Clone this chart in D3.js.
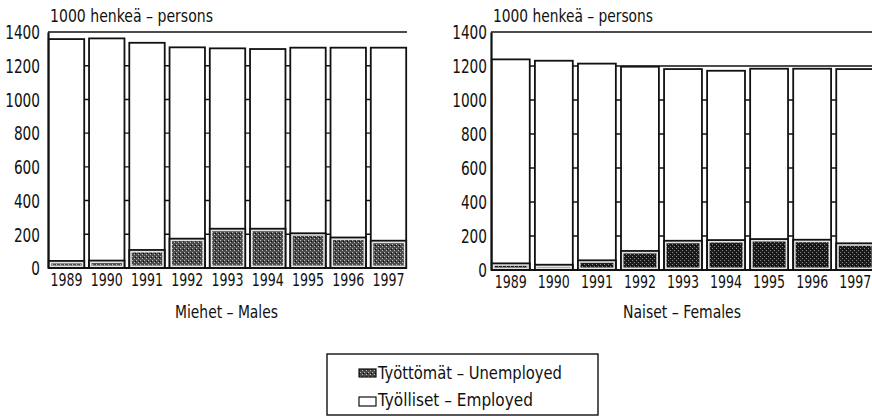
<!DOCTYPE html>
<html>
<head>
<meta charset="utf-8">
<script src="https://cdn.jsdelivr.net/npm/d3@7"></script>
<style>
  body{margin:0;background:#fff;}
  svg text{font-family:"Liberation Sans Narrow","DejaVu Sans Condensed","DejaVu Sans",sans-serif;font-stretch:condensed;fill:#111;}
</style>
</head>
<body>
<script>
// data (1000 persons)
var years = ["1989","1990","1991","1992","1993","1994","1995","1996","1997"];
var malesUnemployed = [42, 44, 107, 174, 233, 233, 206, 181, 162];
var malesEmployed   = [1316, 1318, 1229, 1135, 1070, 1066, 1101, 1126, 1145];
var femalesUnemployed = [39, 31, 57, 112, 172, 176, 182, 178, 157];
var femalesEmployed   = [1200, 1200, 1157, 1084, 1010, 996, 1002, 1006, 1025];
var yTicks = [0, 200, 400, 600, 800, 1000, 1200, 1400];
var unitLabel = "1000 henkeä – persons";
var panelNames = ["Miehet – Males", "Naiset – Females"];
var legendLabels = ["Työttömät – Unemployed", "Työlliset – Employed"];

var svgWidth = 872, svgHeight = 416;

var svg = d3.select("body").append("svg")
  .attr("width", svgWidth)
  .attr("height", svgHeight);

// stipple fills for the unemployed part
var defs = svg.append("defs");
function stipple(id, base, dot){
  var p = defs.append("pattern").attr("id", id)
    .attr("width", 4).attr("height", 4)
    .attr("patternUnits", "userSpaceOnUse");
  p.append("rect").attr("width", 4).attr("height", 4).attr("fill", base);
  p.append("rect").attr("x", 0).attr("y", 0).attr("width", 1).attr("height", 1).attr("fill", dot);
  p.append("rect").attr("x", 2).attr("y", 2).attr("width", 1).attr("height", 1).attr("fill", dot);
  p.append("rect").attr("x", 3).attr("y", 1).attr("width", 1).attr("height", 1).attr("fill", "#000");
}
stipple("stipM", "#4a4a4a", "#bdbdbd");
stipple("stipF", "#1c1c1c", "#8a8a8a");

var panels = [
  {name: panelNames[0], unemp: malesUnemployed, emp: malesEmployed,
   left: 48, right: 407, top: 32, bottom: 268, pad: 8, titleW: 163, nameW: 103, fill: "url(#stipM)"},
  {name: panelNames[1], unemp: femalesUnemployed, emp: femalesEmployed,
   left: 491, right: 875, top: 32, bottom: 270, pad: 4, titleW: 160, nameW: 118, fill: "url(#stipF)"}
];

panels.forEach(function(pn){
  var g = svg.append("g");

  var x = d3.scaleBand().domain(years)
    .range([pn.left, pn.right])
    .paddingInner(0.12).paddingOuter(0.02);
  var y = d3.scaleLinear().domain([0, 1400]).range([pn.bottom, pn.top]);

  // grid lines behind the bars
  g.selectAll(".grid").data(yTicks).enter().append("line")
    .attr("x1", pn.left).attr("x2", pn.right)
    .attr("y1", function(d){return y(d);})
    .attr("y2", function(d){return y(d);})
    .attr("stroke", "#111").attr("stroke-width", 1.4);

  // y axis, labels only
  var yAxis = d3.axisLeft(y).tickValues(yTicks).tickSize(0)
    .tickPadding(pn.pad).tickFormat(d3.format("d"));
  var ya = g.append("g").attr("transform", "translate(" + pn.left + ",0)").call(yAxis);
  ya.select(".domain").attr("stroke", "#111").attr("stroke-width", 2.2);
  ya.selectAll("text").attr("font-size", 19).attr("dy", "0.36em")
    .attr("textLength", function(d){return String(d).length * 8.7;})
    .attr("lengthAdjust", "spacingAndGlyphs");

  var rows = years.map(function(yr, i){
    return {year: yr, unemp: pn.unemp[i], total: pn.unemp[i] + pn.emp[i]};
  });

  var bars = g.selectAll(".bar").data(rows).enter().append("g");
  // whole bar = employed on top
  bars.append("rect")
    .attr("x", function(d){return x(d.year);})
    .attr("y", function(d){return y(d.total);})
    .attr("width", x.bandwidth())
    .attr("height", function(d){return y(0) - y(d.total);})
    .attr("fill", "#fff").attr("stroke", "#111").attr("stroke-width", 1.8);
  // unemployed: black edge, light rim, stipple inside
  bars.append("rect")
    .attr("x", function(d){return x(d.year);})
    .attr("y", function(d){return y(d.unemp);})
    .attr("width", x.bandwidth())
    .attr("height", function(d){return y(0) - y(d.unemp);})
    .attr("fill", "#e4e4e4").attr("stroke", "#111").attr("stroke-width", 1.8);
  bars.append("rect")
    .attr("x", function(d){return x(d.year) + 2.5;})
    .attr("y", function(d){return y(d.unemp) + 2.5;})
    .attr("width", x.bandwidth() - 5)
    .attr("height", function(d){return Math.max(0, y(0) - y(d.unemp) - 5);})
    .attr("fill", pn.fill);

  // year labels
  var xAxis = d3.axisBottom(x).tickSize(0).tickPadding(5);
  var xa = g.append("g").attr("transform", "translate(0," + pn.bottom + ")").call(xAxis);
  xa.select(".domain").remove();
  xa.selectAll("text").attr("font-size", 18.5)
    .attr("textLength", 32).attr("lengthAdjust", "spacingAndGlyphs");

  g.append("line")
    .attr("x1", pn.left).attr("x2", pn.right)
    .attr("y1", y(0)).attr("y2", y(0))
    .attr("stroke", "#111").attr("stroke-width", 1.8);

  g.append("text")
    .attr("x", pn.left + 2).attr("y", 22)
    .attr("font-size", 17.5)
    .attr("textLength", pn.titleW).attr("lengthAdjust", "spacingAndGlyphs")
    .text(unitLabel);

  g.append("text")
    .attr("x", (pn.left + pn.right) / 2 - 1).attr("y", 318)
    .attr("text-anchor", "middle")
    .attr("font-size", 18)
    .attr("textLength", pn.nameW).attr("lengthAdjust", "spacingAndGlyphs")
    .text(pn.name);
});

// legend
var lg = svg.append("g");
lg.append("rect")
  .attr("x", 327).attr("y", 354).attr("width", 271).attr("height", 61)
  .attr("fill", "#fff").attr("stroke", "#111").attr("stroke-width", 1.4);
var legendFills = ["url(#stipM)", "#fff"];
var legendW = [184, 155];
legendLabels.forEach(function(lbl, i){
  var ly = 379 + i * 27;
  lg.append("rect")
    .attr("x", 359).attr("y", ly - 10 + i).attr("width", 17).attr("height", i == 0 ? 8 : 9)
    .attr("fill", legendFills[i]).attr("stroke", "#111").attr("stroke-width", 1.2);
  lg.append("text")
    .attr("x", 378).attr("y", ly)
    .attr("font-size", 18)
    .attr("textLength", legendW[i]).attr("lengthAdjust", "spacingAndGlyphs")
    .text(lbl);
});
</script>
</body>
</html>
